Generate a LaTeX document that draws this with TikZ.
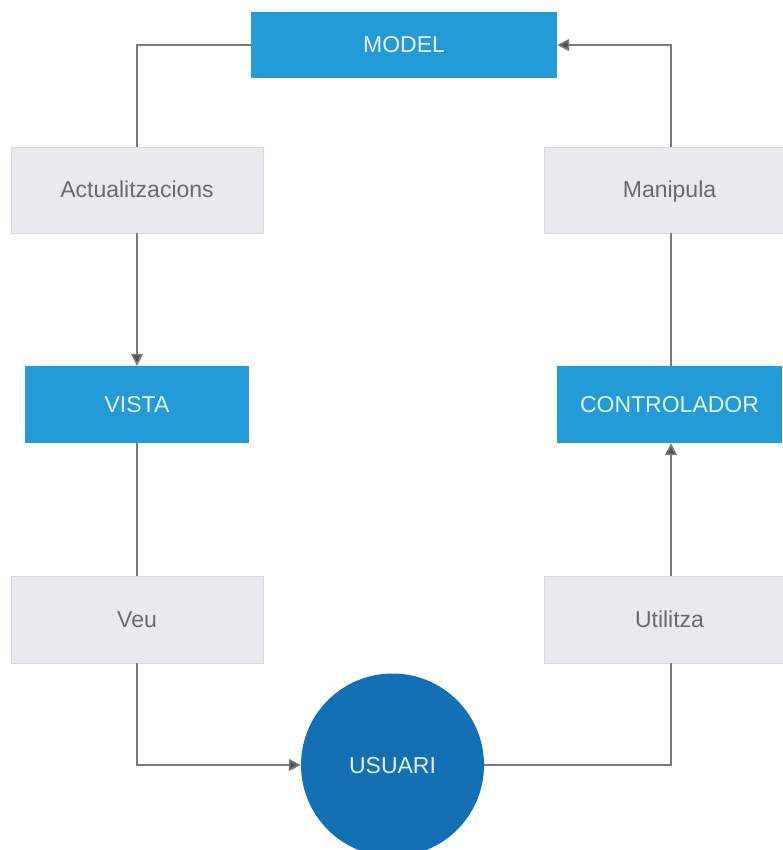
\documentclass[tikz,border=0pt]{standalone}
\usepackage{fontspec}
\setmainfont{Liberation Sans}
\usetikzlibrary{arrows.meta}
\definecolor{mvcblue}{HTML}{229BD8}
\definecolor{userblue}{HTML}{1470B4}
\definecolor{labelgray}{HTML}{E9EAED}
\definecolor{labeledge}{HTML}{D8D9DC}
\definecolor{labeltext}{HTML}{6A6A6A}
\definecolor{linkgray}{HTML}{7A7A7A}
\begin{document}
\begin{tikzpicture}[x=1pt,y=-1pt,
  txt/.style={font=\fontsize{23}{26}\selectfont, text height=16pt, text depth=0pt},
  role/.style={txt, fill=mvcblue, text=white!90!mvcblue, inner sep=0pt, anchor=center},
  tag/.style={txt, fill=labelgray, draw=labeledge, line width=0.6pt, text=labeltext,
    inner sep=0pt, anchor=center},
  link/.style={draw=linkgray, line width=1.6pt},
  flow/.style={link, -{Triangle[length=12pt,width=12pt,fill=black!68]}}
]
\useasboundingbox (0,0) rectangle (783,850);
\clip (0,0) rectangle (783,850);

% main components
\node[role, minimum width=306pt, minimum height=66pt] (model) at (404,45) {MODEL};
\node[role, minimum width=224pt, minimum height=77pt] (vista) at (137,404.5) {VISTA};
\node[role, minimum width=225pt, minimum height=77pt] (ctrl) at (669.5,404.5) {CONTROLADOR};
\node[txt, circle, fill=userblue, text=white!90!userblue, minimum size=183pt, inner sep=0pt]
  (user) at (392.5,765) {USUARI};

% relation labels
\node[tag, minimum width=252pt, minimum height=86pt] (upd) at (137,190) {Actualitzacions};
\node[tag, minimum width=251pt, minimum height=86pt] (man) at (669.5,190) {Manipula};
\node[tag, minimum width=252pt, minimum height=87pt] (veu) at (137,619.5) {Veu};
\node[tag, minimum width=251pt, minimum height=87pt] (uti) at (669.5,619.5) {Utilitza};

% corner points of the loop
\coordinate (tl) at (137,45);
\coordinate (tr) at (671,45);
\coordinate (bl) at (137,765);
\coordinate (br) at (671,765);

% model -> view
\draw[link] (model.west) -- (tl) -- (upd.north -| tl);
\draw[flow] (upd.south -| tl) -- (vista.north -| tl);
% view -> user
\draw[link] (vista.south -| tl) -- (veu.north -| tl);
\draw[flow] (veu.south -| bl) -- (bl) -- (user.west);
% user -> controller
\draw[link] (user.east) -- (br) -- (uti.south -| br);
\draw[flow] (uti.north -| br) -- (ctrl.south -| br);
% controller -> model
\draw[link] (ctrl.north -| br) -- (man.south -| br);
\draw[flow] (man.north -| tr) -- (tr) -- (model.east);
\end{tikzpicture}
\end{document}
